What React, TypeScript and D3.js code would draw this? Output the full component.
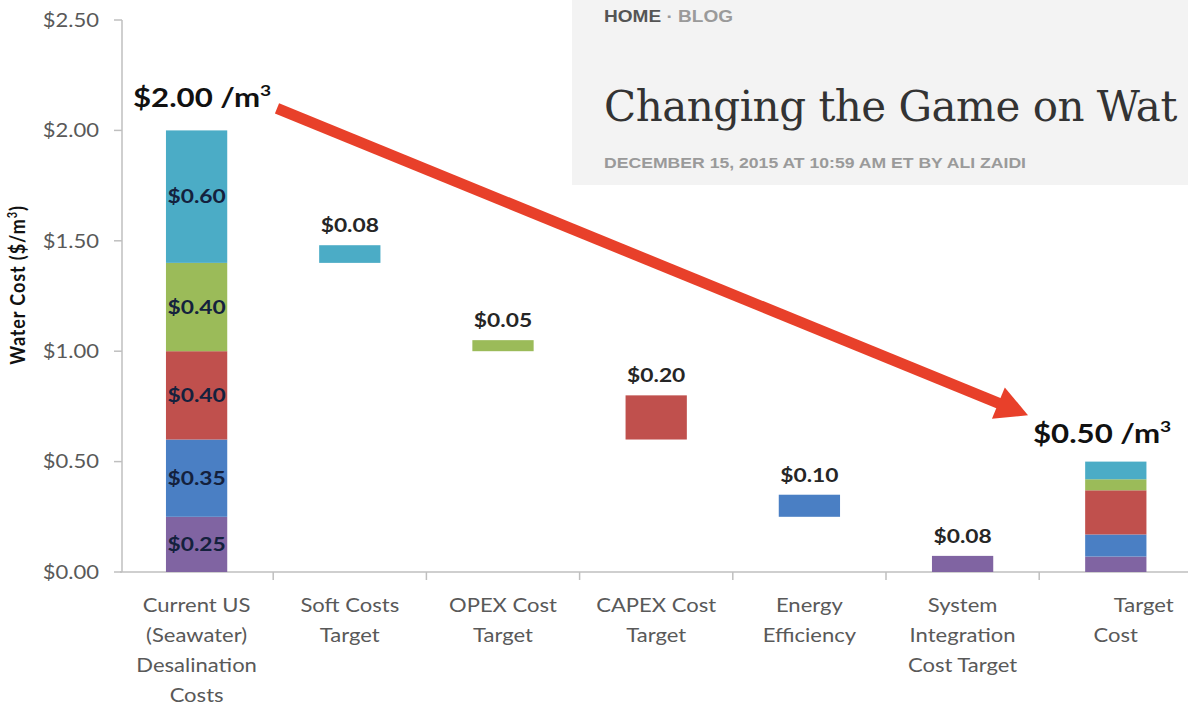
import React from "react";
import * as d3 from "d3";

const W = 1188;
const H = 705;

const categories = [
  "Current US\n(Seawater)\nDesalination\nCosts",
  "Soft Costs\nTarget",
  "OPEX Cost\nTarget",
  "CAPEX Cost\nTarget",
  "Energy\nEfficiency",
  "System\nIntegration\nCost Target",
  "Target\nCost",
];

const componentColors = ["#8064a2", "#4a7fc4", "#c0504d", "#9bbb59", "#4bacc6"];

// stacked bars: current cost and target cost (bottom -> top)
const currentValues = [0.25, 0.35, 0.4, 0.4, 0.6];
const currentLabels = ["$0.25", "$0.35", "$0.40", "$0.40", "$0.60"];
const targetValues = [0.07, 0.1, 0.2, 0.05, 0.08];

// floating reduction bars
const floatCategory = [1, 2, 3, 4, 5];
const floatLow = [1.4, 1.0, 0.6, 0.25, 0.0];
const floatHigh = [1.48, 1.05, 0.8, 0.35, 0.073];
const floatColorIdx = [4, 3, 2, 1, 0];
const floatLabels = ["$0.08", "$0.05", "$0.20", "$0.10", "$0.08"];

const yTicks = [0, 0.5, 1, 1.5, 2, 2.5];

const font = "Lato, 'Open Sans', sans-serif";

function T(props: {
  x: number;
  y: number;
  sx?: number;
  anchor?: string;
  size: number;
  bold?: boolean;
  fill: string;
  dy?: string;
  children: React.ReactNode;
}) {
  const { x, y, sx = 1.13, anchor = "start", size, bold, fill, dy, children } = props;
  return (
    <text
      transform={`translate(${x},${y}) scale(${sx},1)`}
      textAnchor={anchor}
      dy={dy}
      fontFamily={font}
      fontWeight={bold ? "bold" : "normal"}
      fontSize={size}
      fill={fill}
    >
      {children}
    </text>
  );
}

export default function App() {
  const y = d3.scaleLinear().domain([0, 2.5]).range([572, 20]);
  const x = d3
    .scaleBand<number>()
    .domain(d3.range(categories.length))
    .range([120, 120 + 153.2 * 7])
    .paddingInner(0.6)
    .paddingOuter(0.3);
  const bw = x.bandwidth();
  const bandStart = (i: number) => 120 + i * 153.2;
  const center = (i: number) => (x(i) as number) + bw / 2;

  const stack = (vals: number[]) => {
    let acc = 0;
    return vals.map((v) => {
      const lo = acc;
      acc += v;
      return [lo, acc];
    });
  };
  const cur = stack(currentValues);
  const tgt = stack(targetValues);

  // arrow geometry
  const ax1 = 277, ay1 = y(2.0) - 22;
  const ax2 = 1028, ay2 = y(0.71);
  const ang = Math.atan2(ay2 - ay1, ax2 - ax1);
  const headLen = 32, headW = 17;
  const bx = ax2 - headLen * Math.cos(ang), by = ay2 - headLen * Math.sin(ang);
  const px = -Math.sin(ang), py = Math.cos(ang);
  const arrowPts = [
    [ax2, ay2],
    [bx + headW * px, by + headW * py],
    [bx - headW * px, by - headW * py],
  ];

  return (
    <svg
      width={W}
      height={H}
      style={{ position: "absolute", left: 0, top: 0, display: "block", background: "#fff" }}
    >
      {/* y axis */}
      <line x1={122} x2={122} y1={y(2.5)} y2={y(0)} stroke="#bfbfbf" strokeWidth={1.5} />
      {yTicks.map((t) => (
        <g key={t}>
          <line x1={114} x2={122} y1={y(t)} y2={y(t)} stroke="#bfbfbf" strokeWidth={1.5} />
          <T x={99} y={y(t)} dy="0.35em" anchor="end" size={19.5} fill="#595959">
            {d3.format("$.2f")(t)}
          </T>
        </g>
      ))}
      <text
        transform={`translate(25,${y(1.3)}) rotate(-90) scale(1,1.13)`}
        textAnchor="middle"
        fontFamily={font}
        fontWeight="bold"
        fontSize={18}
        letterSpacing={0.9}
        fill="#111"
      >
        Water Cost ($/m<tspan dy={-7} fontSize={11}>3</tspan>
        <tspan dy={7}>)</tspan>
      </text>

      {/* x axis */}
      <line x1={120} x2={W} y1={y(0)} y2={y(0)} stroke="#bfbfbf" strokeWidth={1.5} />
      {d3.range(1, categories.length).map((i) => (
        <line
          key={i}
          x1={bandStart(i)}
          x2={bandStart(i)}
          y1={y(0)}
          y2={y(0) + 8}
          stroke="#bfbfbf"
          strokeWidth={1.5}
        />
      ))}
      {categories.map((c, i) =>
        c.split("\n").map((line, j) => (
          <T
            key={i + "-" + j}
            x={center(i) + (i === 6 && j === 0 ? 28 : 0)}
            y={605 + j * 30}
            dy="0.35em"
            anchor="middle"
            size={19.5}
            fill="#595959"
          >
            {line}
          </T>
        ))
      )}

      {/* current stacked bar */}
      {cur.map(([lo, hi], k) => (
        <rect
          key={"c" + k}
          x={x(0)}
          width={bw}
          y={y(hi)}
          height={y(lo) - y(hi)}
          fill={componentColors[k]}
        />
      ))}
      {cur.map(([lo, hi], k) => (
        <T
          key={"cl" + k}
          x={center(0)}
          y={y((lo + hi) / 2)}
          dy="0.35em"
          anchor="middle"
          size={19}
          sx={1.2}
          bold
          fill="#14213d"
        >
          {currentLabels[k]}
        </T>
      ))}

      {/* target stacked bar */}
      {tgt.map(([lo, hi], k) => (
        <rect
          key={"t" + k}
          x={x(6)}
          width={bw}
          y={y(hi)}
          height={y(lo) - y(hi)}
          fill={componentColors[k]}
        />
      ))}

      {/* floating bars */}
      {floatCategory.map((ci, k) => (
        <g key={"f" + k}>
          <rect
            x={x(ci)}
            width={bw}
            y={y(floatHigh[k])}
            height={y(floatLow[k]) - y(floatHigh[k])}
            fill={componentColors[floatColorIdx[k]]}
          />
          <T
            x={center(ci)}
            y={y(floatHigh[k]) - 13}
            anchor="middle"
            size={19}
            sx={1.2}
            bold
            fill="#262626"
          >
            {floatLabels[k]}
          </T>
        </g>
      ))}

      {/* annotations */}
      <T x={133} y={107} size={26} sx={1.2} bold fill="#111">
        $2.00 /m<tspan dy={-11} fontSize={16}>3</tspan>
      </T>
      <T x={1033} y={443} size={26} sx={1.2} bold fill="#111">
        $0.50 /m<tspan dy={-11} fontSize={16}>3</tspan>
      </T>

      {/* arrow */}
      <line
        x1={ax1}
        y1={ay1}
        x2={bx + 2 * Math.cos(ang)}
        y2={by + 2 * Math.sin(ang)}
        stroke="#e8402a"
        strokeWidth={11}
      />
      <polygon points={arrowPts.map((p) => p.join(",")).join(" ")} fill="#e8402a" />

      {/* blog header overlay */}
      <rect x={572} y={0} width={W - 572} height={185} fill="#f3f3f3" />
      <text
        x={604}
        y={22}
        fontFamily="'Liberation Sans', Arial, sans-serif"
        fontWeight="bold"
        fontSize={16}
        textLength={129}
        lengthAdjust="spacingAndGlyphs"
      >
        <tspan fill="#555">HOME</tspan>
        <tspan fill="#9a9a9a"> · BLOG</tspan>
      </text>
      <text
        x={604}
        y={121}
        fontFamily="'DejaVu Serif', 'Liberation Serif', serif"
        fontSize={42}
        fill="#333"
        letterSpacing={-0.5}
      >
        Changing the Game on Wat
      </text>
      <text
        x={604}
        y={168}
        fontFamily="'Liberation Sans', Arial, sans-serif"
        fontWeight="bold"
        fontSize={14}
        fill="#9a9a9a"
        textLength={422}
        lengthAdjust="spacingAndGlyphs"
      >
        DECEMBER 15, 2015 AT 10:59 AM ET BY ALI ZAIDI
      </text>
    </svg>
  );
}
